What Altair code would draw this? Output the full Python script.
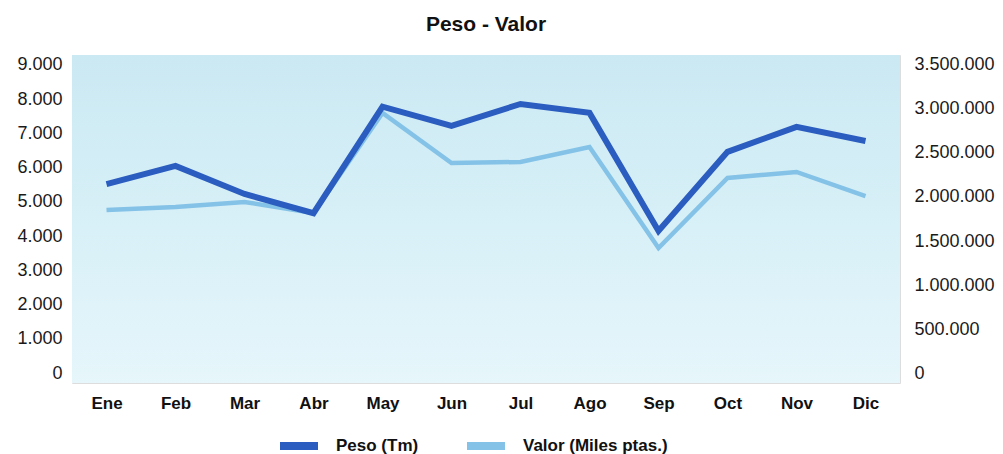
import altair as alt
import pandas as pd

meses = ["Ene", "Feb", "Mar", "Abr", "May", "Jun", "Jul", "Ago", "Sep", "Oct", "Nov", "Dic"]
peso = [5520, 6050, 5230, 4670, 7780, 7220, 7860, 7600, 4150, 6460, 7190, 6780]
valor = [1852000, 1886000, 1943000, 1818000, 2955000, 2386000, 2398000, 2568000,
         1420000, 2216000, 2284000, 2011000]
left_ticks = [0, 1000, 2000, 3000, 4000, 5000, 6000, 7000, 8000, 9000]
right_ticks = [0, 500000, 1000000, 1500000, 2000000, 2500000, 3000000, 3500000]
series = ["Peso (Tm)", "Valor (Miles ptas.)"]
colors = ["#2b5cbf", "#84c2e7"]

df = pd.DataFrame({"mes": meses, "peso": peso, "valor": valor})

FONT = "Liberation Sans"
dot_fmt = "replace(replace(format(datum.value, ','), ',', '.'), ',', '.')"

x_enc = alt.X(
    "mes:N", sort=meses, title=None,
    scale=alt.Scale(type="point", padding=0.5),
    axis=alt.Axis(domain=False, ticks=False, labelAngle=0, labelFont=FONT,
                  labelFontSize=17, labelFontWeight="bold", labelColor="#111111",
                  labelPadding=12),
)

color_scale = alt.Scale(domain=series, range=colors)
legend = alt.Legend(
    title=None, orient="none", legendX=204, legendY=368, direction="horizontal",
    symbolType="stroke", symbolSize=1444, symbolStrokeWidth=8,
    labelFont=FONT, labelFontSize=17, labelFontWeight="bold", labelColor="#111111",
    labelOffset=14, columnPadding=32, padding=0,
)

bg = alt.Chart(pd.DataFrame({"a": [0]})).mark_rect(
    fill=alt.LinearGradient(
        gradient="linear", x1=0, x2=0, y1=0, y2=1,
        stops=[alt.GradientStop(color="#cbe9f3", offset=0),
               alt.GradientStop(color="#d6eff7", offset=0.45),
               alt.GradientStop(color="#e6f6fb", offset=1)],
    )
).encode(x=alt.value(0), x2=alt.value("width"), y=alt.value(0), y2=alt.value("height"))

valor_line = alt.Chart(df).transform_calculate(serie="'Valor (Miles ptas.)'").mark_line(
    strokeWidth=4.5, strokeJoin="miter"
).encode(
    x=x_enc,
    y=alt.Y("valor:Q", title=None,
            scale=alt.Scale(domain=[-113000, 3613000], nice=False, zero=False),
            axis=alt.Axis(orient="right", values=right_ticks, domain=False, ticks=False,
                          grid=False, labelExpr=dot_fmt, labelFont=FONT, labelFontSize=18,
                          labelColor="#1a1a1a", labelPadding=14)),
    color=alt.Color("serie:N", scale=color_scale, legend=legend),
)

peso_line = alt.Chart(df).transform_calculate(serie="'Peso (Tm)'").mark_line(
    strokeWidth=6, strokeJoin="miter"
).encode(
    x=x_enc,
    y=alt.Y("peso:Q", title=None,
            scale=alt.Scale(domain=[-290, 9290], nice=False, zero=False),
            axis=alt.Axis(orient="left", values=left_ticks, domain=False, ticks=False,
                          grid=False, labelExpr=dot_fmt, labelFont=FONT, labelFontSize=18,
                          labelColor="#1a1a1a", labelPadding=10)),
    color=alt.Color("serie:N", scale=color_scale, legend=legend),
)

chart = alt.layer(bg, valor_line, peso_line).resolve_scale(y="independent").properties(
    width=828, height=328,
    title=alt.TitleParams("Peso - Valor", font=FONT, fontSize=21, fontWeight="bold",
                          color="#111111", anchor="middle", frame="group", offset=20),
    autosize=alt.AutoSizeParams(type="none"),
    padding={"left": 64, "top": 47, "right": 95, "bottom": 71},
).configure_view(strokeWidth=0).configure(background="white")

chart.save("out.html", embed_options={"renderer": "svg", "actions": False})
